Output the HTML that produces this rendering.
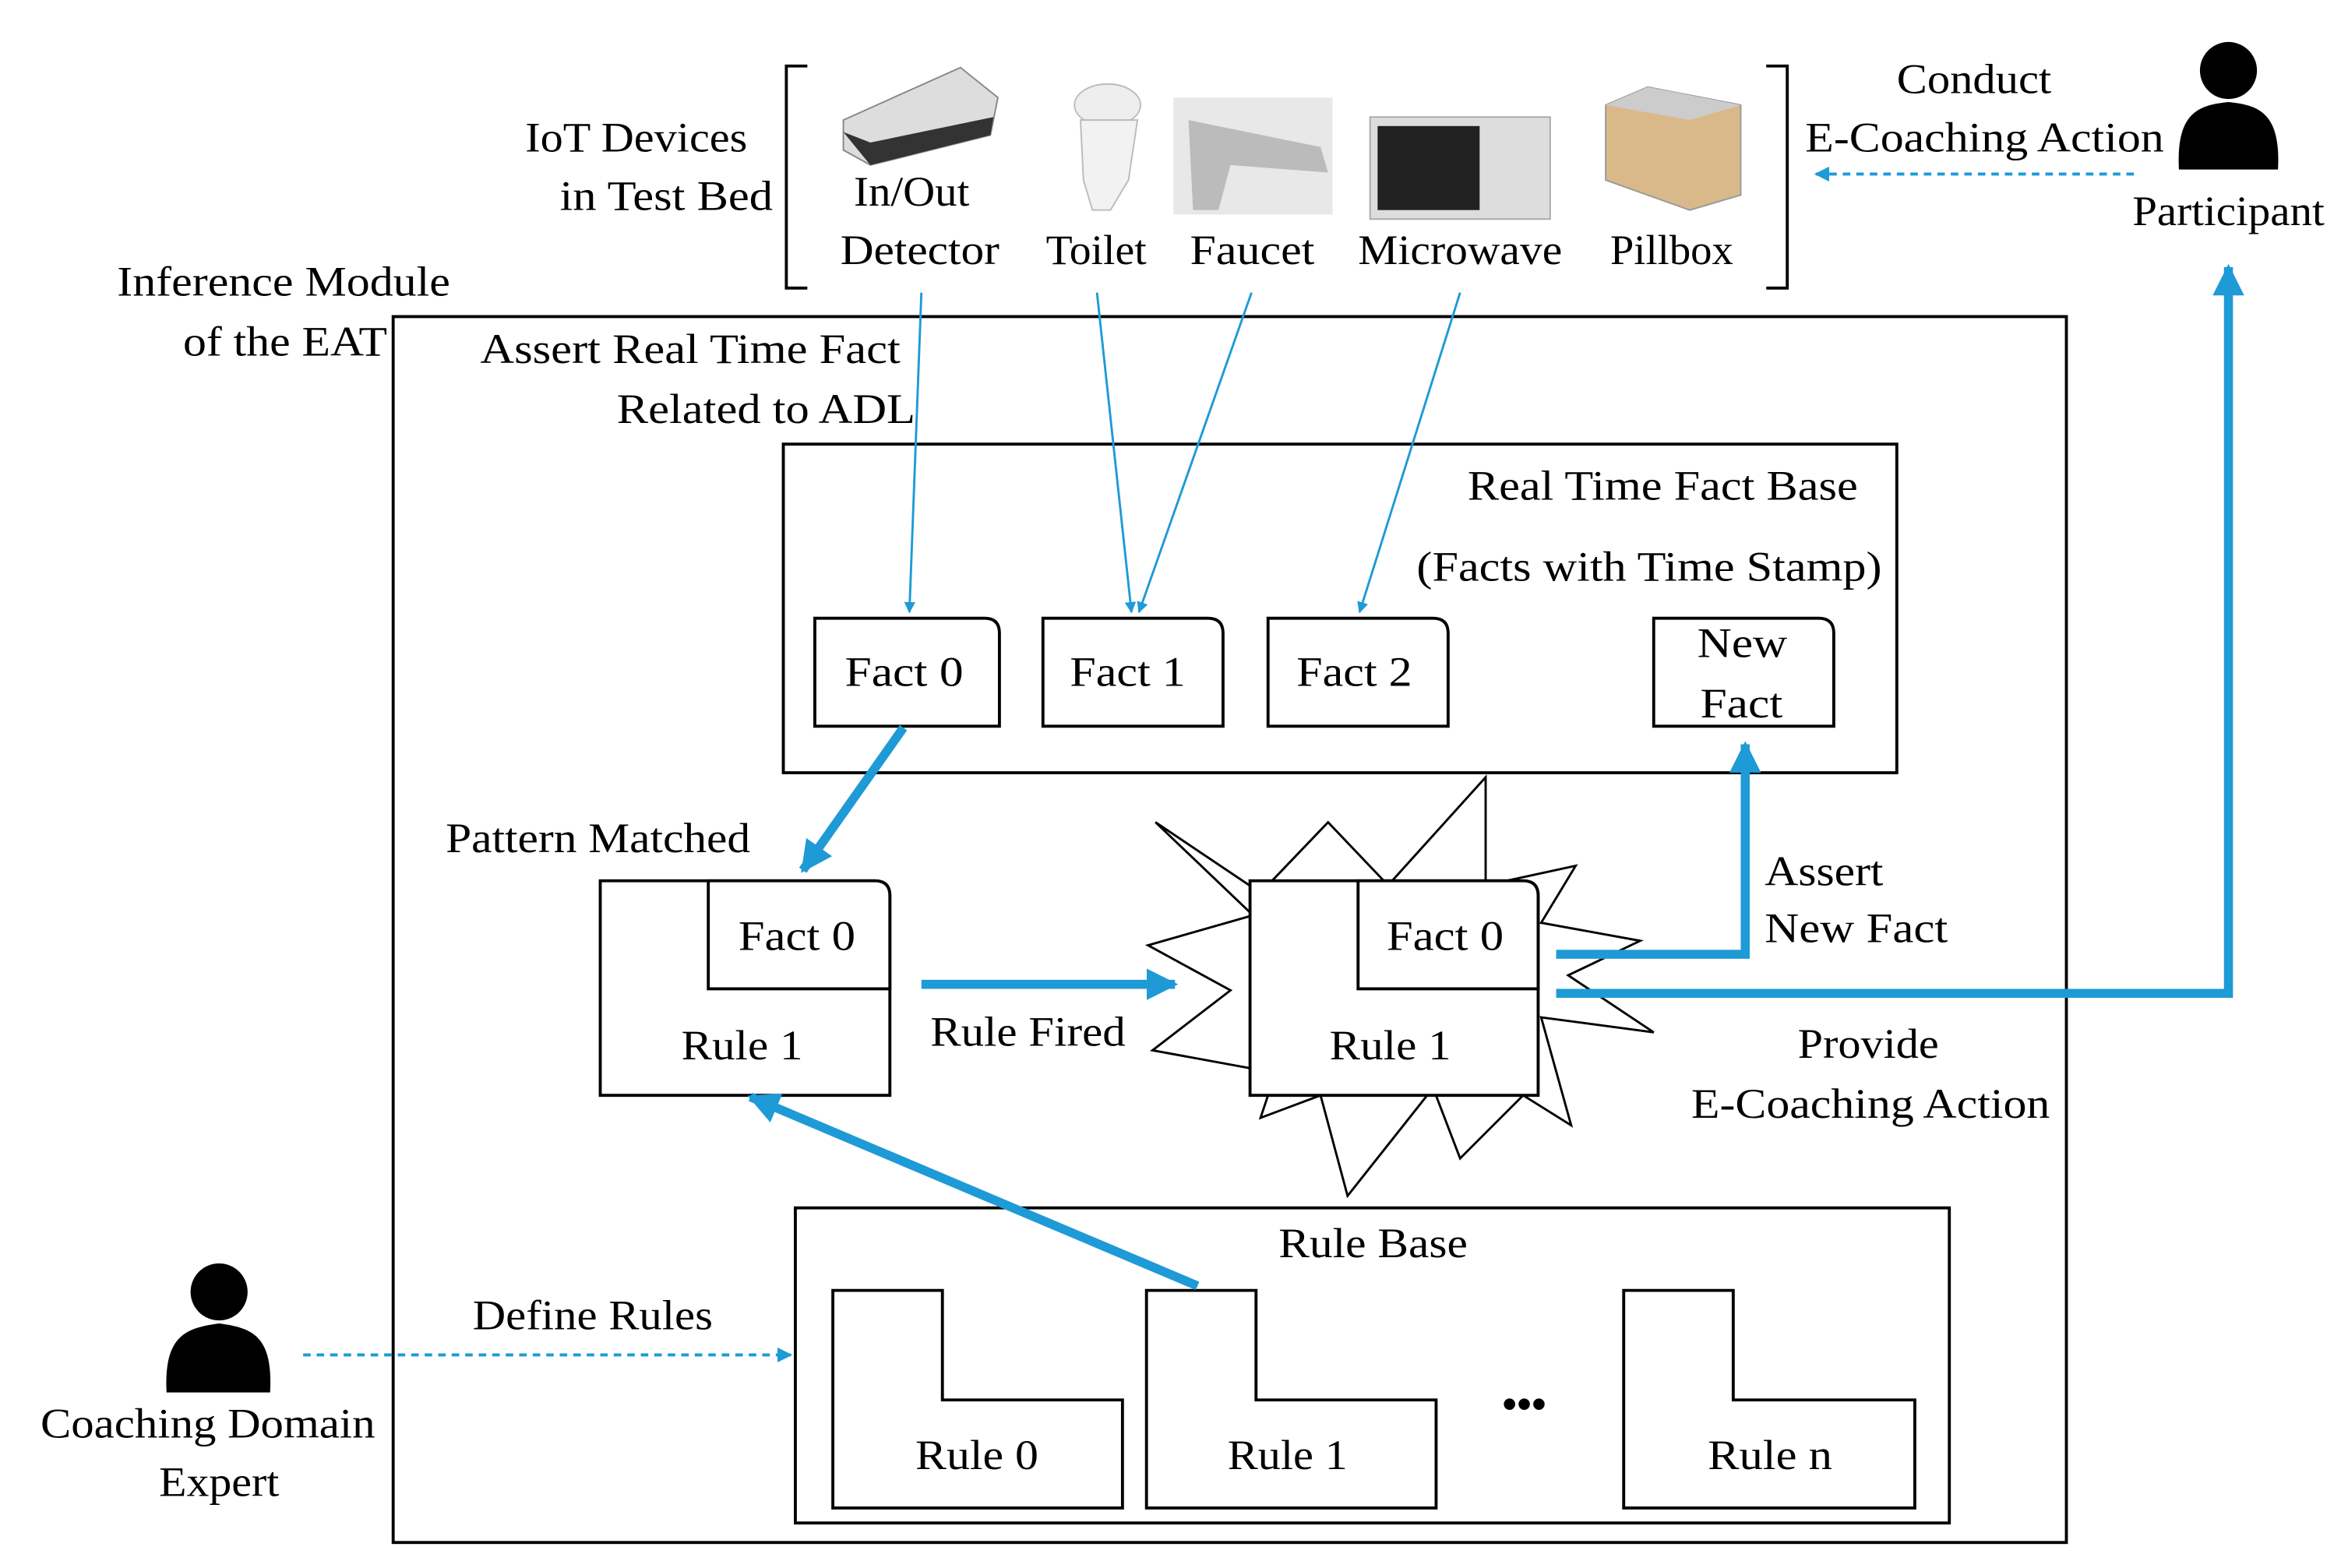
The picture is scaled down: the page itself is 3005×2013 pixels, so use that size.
<!DOCTYPE html>
<html><head><meta charset="utf-8"><style>
html,body{margin:0;padding:0;background:#fff}
svg{display:block}
text{font-family:"Liberation Serif",serif;font-size:28px;fill:#000}
</style></head><body>
<svg width="3005" height="2013" viewBox="0 0 1560 1045" preserveAspectRatio="none" xmlns="http://www.w3.org/2000/svg">
<defs>
<marker id="a" viewBox="0 0 10 10" refX="9" refY="5" markerWidth="5" markerHeight="5" orient="auto-start-reverse"><path d="M0,0L10,5L0,10z" fill="#1e9ad6"/></marker>
<marker id="b" viewBox="0 0 10 10" refX="9" refY="5" markerWidth="3.5" markerHeight="3.5" orient="auto"><path d="M0,0L10,5L0,10z" fill="#1e9ad6"/></marker>
</defs>
<path d="M538,44H524V192H538M1177,44H1191V192H1177" fill="none" stroke="#000" stroke-width="2"/>
<g>
<path d="M562,80L640,45L665,65L660,90L580,110L562,100z" fill="#ddd" stroke="#888"/>
<path d="M562,88L580,110L660,90L662,78L580,95z" fill="#333"/>
<ellipse cx="738" cy="70" rx="22" ry="14" fill="#eee" stroke="#bbb"/>
<path d="M720,80H758L752,120L740,140L728,140L722,120z" fill="#f2f2f2" stroke="#bbb"/>
<rect x="782" y="65" width="106" height="78" fill="#e8e8e8"/>
<path d="M792,80L880,98L885,115L820,110L812,140L795,140z" fill="#bbb"/>
<rect x="913" y="78" width="120" height="68" fill="#ddd" stroke="#aaa"/>
<rect x="918" y="84" width="68" height="56" fill="#222"/>
<path d="M1070,70L1098,58L1160,70L1160,130L1126,140L1070,120z" fill="#d9b98a" stroke="#999"/>
<path d="M1070,70L1098,58L1160,70L1126,80z" fill="#ccc"/>
</g>
<g style="" >
<text x="350" y="101" textLength="148" lengthAdjust="spacingAndGlyphs">IoT Devices</text>
<text x="373" y="140" textLength="142" lengthAdjust="spacingAndGlyphs">in Test Bed</text>
<text x="569" y="137" textLength="77" lengthAdjust="spacingAndGlyphs">In/Out</text>
<text x="560" y="176" textLength="106" lengthAdjust="spacingAndGlyphs">Detector</text>
<text x="697" y="176" textLength="67" lengthAdjust="spacingAndGlyphs">Toilet</text>
<text x="793" y="176" textLength="83" lengthAdjust="spacingAndGlyphs">Faucet</text>
<text x="905" y="176" textLength="136" lengthAdjust="spacingAndGlyphs">Microwave</text>
<text x="1073" y="176" textLength="82" lengthAdjust="spacingAndGlyphs">Pillbox</text>
<text x="1264" y="62" textLength="103" lengthAdjust="spacingAndGlyphs">Conduct</text>
<text x="1203" y="101" textLength="239" lengthAdjust="spacingAndGlyphs">E-Coaching  Action</text>
<text x="1421" y="150" textLength="128" lengthAdjust="spacingAndGlyphs">Participant</text>
<text x="78" y="197" textLength="222" lengthAdjust="spacingAndGlyphs">Inference  Module</text>
<text x="122" y="237" textLength="136" lengthAdjust="spacingAndGlyphs">of the EAT</text>
<text x="320" y="242" textLength="280" lengthAdjust="spacingAndGlyphs">Assert Real Time  Fact</text>
<text x="411" y="282" textLength="199" lengthAdjust="spacingAndGlyphs">Related  to ADL</text>
</g>
<circle cx="1485" cy="47" r="19" fill="#000"/>
<path d="M1452,113C1450,75 1465,70 1485,68C1505,70 1520,75 1518,113z" fill="#000"/>
<circle cx="146" cy="861" r="19" fill="#000"/>
<path d="M111,928C109,890 124,885 146,882C168,885 182,890 180,928z" fill="#000"/>
<rect x="262" y="211" width="1115" height="817" fill="none" stroke="#000" stroke-width="2"/>
<rect x="522" y="296" width="742" height="219" fill="none" stroke="#000" stroke-width="2"/>
<text x="978" y="333" textLength="260" lengthAdjust="spacingAndGlyphs">Real Time  Fact Base</text>
<text x="944" y="387" textLength="310" lengthAdjust="spacingAndGlyphs">(Facts with  Time  Stamp)</text>
<g fill="#fff" stroke="#000" stroke-width="2">
<path d="M543,412H656Q666,412 666,422V484H543z"/>
<path d="M695,412H805Q815,412 815,422V484H695z"/>
<path d="M845,412H955Q965,412 965,422V484H845z"/>
<path d="M1102,412H1212Q1222,412 1222,422V484H1102z"/>
</g>
<text x="563" y="457" textLength="79" lengthAdjust="spacingAndGlyphs">Fact 0</text>
<text x="713" y="457" textLength="77" lengthAdjust="spacingAndGlyphs">Fact 1</text>
<text x="864" y="457" textLength="77" lengthAdjust="spacingAndGlyphs">Fact 2</text>
<text x="1131" y="438" textLength="60" lengthAdjust="spacingAndGlyphs">New</text>
<text x="1133" y="478" textLength="55" lengthAdjust="spacingAndGlyphs">Fact</text>
<polygon points="770,548 840,595 885,548 925,590 990,518 990,590 1050,577 1027,615 1093,627 1045,650 1102,688 1027,678 1047,750 1015,730 973,772 955,725 898,797 880,730 840,745 850,715 768,700 820,660 765,630 835,610" fill="#fff" stroke="#000" stroke-width="1.5"/>
<g fill="#fff" stroke="#000" stroke-width="2">
<path d="M400,587H583Q593,587 593,597V730H400z"/>
<path d="M472,587H583Q593,587 593,597V659H472z"/>
<path d="M833,587H1015Q1025,587 1025,597V730H833z"/>
<path d="M905,587H1015Q1025,587 1025,597V659H905z"/>
</g>
<text x="492" y="633" textLength="78" lengthAdjust="spacingAndGlyphs">Fact 0</text>
<text x="454" y="706" textLength="81" lengthAdjust="spacingAndGlyphs">Rule  1</text>
<text x="924" y="633" textLength="78" lengthAdjust="spacingAndGlyphs">Fact 0</text>
<text x="886" y="706" textLength="81" lengthAdjust="spacingAndGlyphs">Rule  1</text>
<text x="297" y="568" textLength="203" lengthAdjust="spacingAndGlyphs">Pattern Matched</text>
<text x="620" y="697" textLength="130" lengthAdjust="spacingAndGlyphs">Rule  Fired</text>
<text x="1176" y="590" textLength="79" lengthAdjust="spacingAndGlyphs">Assert</text>
<text x="1176" y="628" textLength="122" lengthAdjust="spacingAndGlyphs">New Fact</text>
<text x="1198" y="705" textLength="94" lengthAdjust="spacingAndGlyphs">Provide</text>
<text x="1127" y="745" textLength="239" lengthAdjust="spacingAndGlyphs">E-Coaching  Action</text>
<rect x="530" y="805" width="769" height="210" fill="none" stroke="#000" stroke-width="2"/>
<text x="852" y="838" textLength="126" lengthAdjust="spacingAndGlyphs">Rule  Base</text>
<g fill="#fff" stroke="#000" stroke-width="2">
<path d="M555,860H628V933H748V1005H555z"/>
<path d="M764,860H837V933H957V1005H764z"/>
<path d="M1082,860H1155V933H1276V1005H1082z"/>
</g>
<text x="610" y="979" textLength="82" lengthAdjust="spacingAndGlyphs">Rule  0</text>
<text x="818" y="979" textLength="80" lengthAdjust="spacingAndGlyphs">Rule  1</text>
<text x="1138" y="979" textLength="83" lengthAdjust="spacingAndGlyphs">Rule  n</text>
<text x="1001" y="945" style="font-weight:bold">•••</text>
<text x="315" y="886" textLength="160" lengthAdjust="spacingAndGlyphs">Define  Rules</text>
<text x="27" y="958" textLength="223" lengthAdjust="spacingAndGlyphs">Coaching  Domain</text>
<text x="106" y="997" textLength="80" lengthAdjust="spacingAndGlyphs">Expert</text>
<g stroke="#1e9ad6" fill="none">
<line x1="614" y1="195" x2="606" y2="408" stroke-width="1.5" marker-end="url(#a)"/>
<line x1="731" y1="195" x2="754" y2="408" stroke-width="1.5" marker-end="url(#a)"/>
<line x1="834" y1="195" x2="759" y2="408" stroke-width="1.5" marker-end="url(#a)"/>
<line x1="973" y1="195" x2="906" y2="408" stroke-width="1.5" marker-end="url(#a)"/>
<line x1="1422" y1="116" x2="1210" y2="116" stroke-width="2" stroke-dasharray="5,4" marker-end="url(#a)"/>
<line x1="202" y1="903" x2="527" y2="903" stroke-width="2" stroke-dasharray="5,4" marker-end="url(#a)"/>
<line x1="602" y1="485" x2="535" y2="580" stroke-width="6" marker-end="url(#b)"/>
<line x1="614" y1="656" x2="783" y2="656" stroke-width="6" marker-end="url(#b)"/>
<polyline points="1037,636 1163,636 1163,496" stroke-width="6" marker-end="url(#b)"/>
<polyline points="1037,662 1485,662 1485,178" stroke-width="6" marker-end="url(#b)"/>
<line x1="798" y1="857" x2="500" y2="731" stroke-width="6" marker-end="url(#b)"/>
</g>
</svg>
</body></html>
